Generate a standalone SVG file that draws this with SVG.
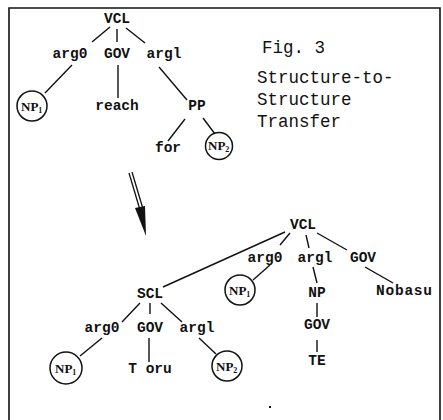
<svg xmlns="http://www.w3.org/2000/svg" width="443" height="420" viewBox="0 0 443 420">
<style>
.t{font-family:"Liberation Mono","DejaVu Sans Mono",monospace;font-size:14.5px;font-weight:bold;text-anchor:middle;fill:#111}
.cap{font-family:"Liberation Mono","DejaVu Sans Mono",monospace;font-size:17.5px;fill:#111}
.np{font-family:"Liberation Serif","DejaVu Serif",serif;font-size:13px;font-weight:bold;fill:#111}
.sub{font-size:8px}
.c{fill:#fff;stroke:#111;stroke-width:1.5}
.e line{stroke:#111;stroke-width:1.4;fill:none}
.b{stroke:#111;stroke-width:1.6;fill:none}
</style>
<rect width="443" height="420" fill="#fff"/>
<path class="b" d="M9,420 V8 H440 V420"/>
<g id="caption">
<text class="cap" x="262" y="53">Fig. 3</text>
<text class="cap" x="257" y="83">Structure-to-</text>
<text class="cap" x="257" y="105">Structure</text>
<text class="cap" x="257" y="127">Transfer</text>
</g>
<g class="e" id="connectors">
<line x1="110" y1="27" x2="92" y2="42"/>
<line x1="117" y1="29" x2="117" y2="42"/>
<line x1="126" y1="28" x2="145" y2="43"/>
<line x1="72" y1="65" x2="45" y2="93"/>
<line x1="118" y1="65" x2="118" y2="98"/>
<line x1="159" y1="67" x2="187" y2="100"/>
<line x1="185" y1="119" x2="168" y2="141"/>
<line x1="203" y1="118" x2="215" y2="134"/>
<line x1="285" y1="232" x2="163" y2="287"/>
<line x1="290" y1="233" x2="280" y2="245"/>
<line x1="306" y1="235" x2="309" y2="248"/>
<line x1="317" y1="233" x2="347" y2="250"/>
<line x1="270" y1="265" x2="253" y2="280"/>
<line x1="313" y1="267" x2="317" y2="283"/>
<line x1="317" y1="303" x2="317" y2="317"/>
<line x1="317" y1="340" x2="317" y2="352"/>
<line x1="365" y1="267" x2="393" y2="283"/>
<line x1="140" y1="303" x2="122" y2="322"/>
<line x1="150" y1="303" x2="150" y2="314"/>
<line x1="161" y1="303" x2="182" y2="322"/>
<line x1="102" y1="338" x2="80" y2="356"/>
<line x1="149" y1="338" x2="149" y2="362"/>
<line x1="199" y1="338" x2="216" y2="354"/>
</g>
<g id="arrow">
<line x1="129" y1="173" x2="140" y2="210" stroke="#111" stroke-width="1.3"/>
<line x1="132" y1="172" x2="143" y2="209" stroke="#111" stroke-width="1.3"/>
<polygon points="135,208 145,206 146,236" fill="#111"/>
</g>
<g id="top-VCL"><text class="t" x="117" y="23">VCL</text></g>
<g id="top-arg0"><text class="t" x="70" y="58">arg0</text></g>
<g id="top-GOV"><text class="t" x="117" y="58">GOV</text></g>
<g id="top-arg1"><text class="t" x="164" y="58">argl</text></g>
<g id="top-NP1"><circle class="c" cx="32" cy="106" r="15"/><text class="np" x="21" y="111">NP<tspan class="sub" dy="2">1</tspan></text></g>
<g id="top-reach"><text class="t" x="117" y="110">reach</text></g>
<g id="top-PP"><text class="t" x="197" y="110">PP</text></g>
<g id="top-for"><text class="t" x="168" y="152">for</text></g>
<g id="top-NP2"><circle class="c" cx="219" cy="146" r="13.5"/><text class="np" x="208" y="150">NP<tspan class="sub" dy="2">2</tspan></text></g>
<g id="bot-VCL"><text class="t" x="303" y="229">VCL</text></g>
<g id="bot-arg0"><text class="t" x="265" y="262">arg0</text></g>
<g id="bot-arg1"><text class="t" x="315" y="262">argl</text></g>
<g id="bot-GOV"><text class="t" x="363" y="262">GOV</text></g>
<g id="bot-NP1"><circle class="c" cx="240" cy="290" r="15"/><text class="np" x="229" y="295">NP<tspan class="sub" dy="2">1</tspan></text></g>
<g id="bot-NP"><text class="t" x="317" y="297">NP</text></g>
<g id="bot-Nobasu"><text class="t" x="404" y="295" textLength="56">Nobasu</text></g>
<g id="bot-GOV2"><text class="t" x="317" y="329">GOV</text></g>
<g id="bot-TE"><text class="t" x="317" y="365">TE</text></g>
<g id="SCL"><text class="t" x="150" y="298">SCL</text></g>
<g id="scl-arg0"><text class="t" x="102" y="332">arg0</text></g>
<g id="scl-GOV"><text class="t" x="150" y="332">GOV</text></g>
<g id="scl-arg1"><text class="t" x="197" y="332">argl</text></g>
<g id="scl-NP1"><circle class="c" cx="66" cy="368" r="16"/><text class="np" x="55" y="373">NP<tspan class="sub" dy="2">1</tspan></text></g>
<g id="scl-Toru"><text class="t" x="150" y="373">T oru</text></g>
<g id="scl-NP2"><circle class="c" cx="227" cy="366" r="15"/><text class="np" x="216" y="371">NP<tspan class="sub" dy="2">2</tspan></text></g>
<rect x="269" y="406" width="2" height="2" fill="#111"/>
</svg>
